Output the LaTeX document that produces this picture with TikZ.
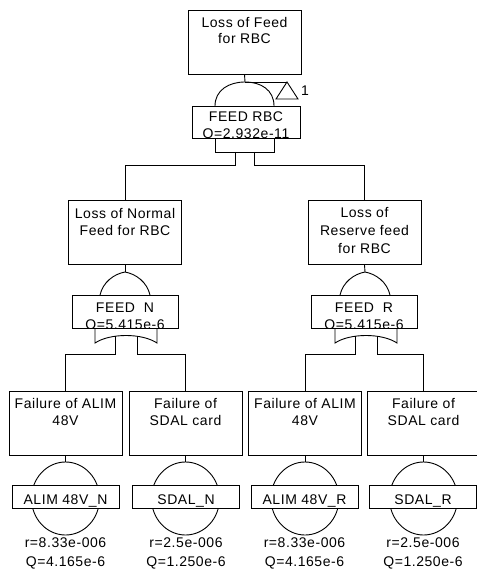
\documentclass[tikz,border=0pt]{standalone}
\usepackage{fontspec}
\setmainfont{Liberation Sans}[LetterSpace=4]
\usetikzlibrary{shapes.geometric}
\tikzset{
  box/.style={draw, line width=0.9pt, fill=white, inner sep=0pt},
  wire/.style={line width=0.9pt},
  txt/.style={anchor=base, inner sep=0pt, font=\fontsize{14}{17}\selectfont},
  evt/.style={box, minimum width=113pt, minimum height=64pt},
  glab/.style={box, minimum width=106pt, minimum height=33pt},
  elab/.style={box, minimum width=107pt, minimum height=23pt},
  bcirc/.style={draw, line width=0.9pt, ellipse, minimum width=68pt, minimum height=73pt, inner sep=0pt},
}
\begin{document}
\begin{tikzpicture}[x=1pt,y=-1pt]
\useasboundingbox (0,0) rectangle (476,569);

% ---------- top event ----------
\node[box, minimum width=113pt, minimum height=64pt] (top) at (244.5,42) {};
\node[txt] at (244.5,28) {Loss of Feed};
\node[txt] at (244.5,44) {for RBC};

% AND gate (top)
\coordinate (gtopA) at (245,82);
\draw[wire] (top.south) -- (gtopA);
\draw[wire] (215,106) .. controls (215,90) and (229,82) .. (gtopA) .. controls (261,82) and (274,90) .. (274,106);
\draw[wire] (215,130) -- (215,152) -- (274,152) -- (274,130);
% transfer triangle
\coordinate (trA) at (287,82);
\draw[wire] (gtopA) -- (trA);
\draw[wire] (trA) -- (298,99) -- (276,99) -- cycle;
\node[txt] at (305,96) {1};

\node[box, minimum width=108pt, minimum height=32pt] (gRBC) at (246,122) {};
\begin{scope}
\clip (gRBC.south west) rectangle (gRBC.north east);
\node[txt] at (246,122) {FEED RBC};
\node[txt] at (246,139) {Q=2.932e-11};
\end{scope}

% ---------- middle events ----------
\node[evt] (mL) at (125,232.5) {};
\node[txt] at (125,218) {Loss of Normal};
\node[txt] at (125,235) {Feed for RBC};

\node[evt] (mR) at (364.5,232.5) {};
\node[txt] at (364.5,217) {Loss of};
\node[txt] at (364.5,235) {Reserve feed};
\node[txt] at (364.5,253) {for RBC};

\coordinate (oL) at (235,152);
\coordinate (oR) at (254,152);
\draw[wire] (oL) -- (235,165) -| (mL.north);
\draw[wire] (oR) -- (254,165) -| (mR.north);

% OR gate left
\coordinate (gNa) at (125,272);
\draw[wire] (mL.south) -- (gNa);
\draw[wire] (100,295) .. controls (103,282) and (114,274) .. (gNa) .. controls (136,274) and (147,282) .. (150,295);
\draw[wire] (95,320) -- (95,343) .. controls (110,333) and (142,333) .. (157,343) -- (157,320);
\node[glab] (gN) at (125,311.5) {};
\begin{scope}
\clip (gN.south west) rectangle (gN.north east);
\node[txt] at (125,312) {FEED\ \ N};
\node[txt] at (125,329.5) {Q=5.415e-6};
\end{scope}

% OR gate right
\coordinate (gRa) at (365,272);
\draw[wire] (mR.south) -- (gRa);
\draw[wire] (340,295) .. controls (343,282) and (354,274) .. (gRa) .. controls (376,274) and (387,282) .. (390,295);
\draw[wire] (335,320) -- (335,343) .. controls (350,333) and (382,333) .. (397,343) -- (397,320);
\node[glab] (gR) at (364,311.5) {};
\begin{scope}
\clip (gR.south west) rectangle (gR.north east);
\node[txt] at (364,312) {FEED\ \ R};
\node[txt] at (364,329.5) {Q=5.415e-6};
\end{scope}

% ---------- bottom events ----------
\node[evt] (b1) at (65.5,423) {};
\node[txt] at (65.5,408) {Failure of ALIM};
\node[txt] at (65.5,425) {48V};

\node[evt] (b2) at (185.5,423) {};
\node[txt] at (185.5,408) {Failure of};
\node[txt] at (185.5,425) {SDAL card};

\node[evt] (b3) at (305,423) {};
\node[txt] at (305,408) {Failure of ALIM};
\node[txt] at (305,425) {48V};

\node[evt] (b4) at (423.5,423) {};
\node[txt] at (423.5,408) {Failure of};
\node[txt] at (423.5,425) {SDAL card};

\coordinate (sN1) at (115,336);
\coordinate (sN2) at (137,336);
\coordinate (sR1) at (355,336);
\coordinate (sR2) at (377,336);
\draw[wire] (sN1) -- (115,354) -| (b1.north);
\draw[wire] (sN2) -- (137,354) -| (b2.north);
\draw[wire] (sR1) -- (355,354) -| (b3.north);
\draw[wire] (sR2) -- (377,354) -| (b4.north);

% basic events
\foreach \n/\x in {1/65.5,2/185.5,3/305,4/423.5}{
  \node[bcirc] (c\n) at (\x,498.5) {};
  \draw[wire] (b\n.south) -- (c\n.north);
}
\node[elab] (e1) at (65.5,496.5) {};
\node[txt] at (65.5,504) {ALIM 48V\_N};
\node[elab] (e2) at (186,496.5) {};
\node[txt] at (186,504) {SDAL\_N};
\node[elab] (e3) at (304.5,496.5) {};
\node[txt] at (304.5,504) {ALIM 48V\_R};
\node[elab] (e4) at (423,496.5) {};
\node[txt] at (423,504) {SDAL\_R};

\node[txt] at (65.5,547) {r=8.33e-006};
\node[txt] at (65.5,566) {Q=4.165e-6};
\node[txt] at (186,547) {r=2.5e-006};
\node[txt] at (186,566) {Q=1.250e-6};
\node[txt] at (304.5,547) {r=8.33e-006};
\node[txt] at (304.5,566) {Q=4.165e-6};
\node[txt] at (423,547) {r=2.5e-006};
\node[txt] at (423,566) {Q=1.250e-6};
\end{tikzpicture}
\end{document}
